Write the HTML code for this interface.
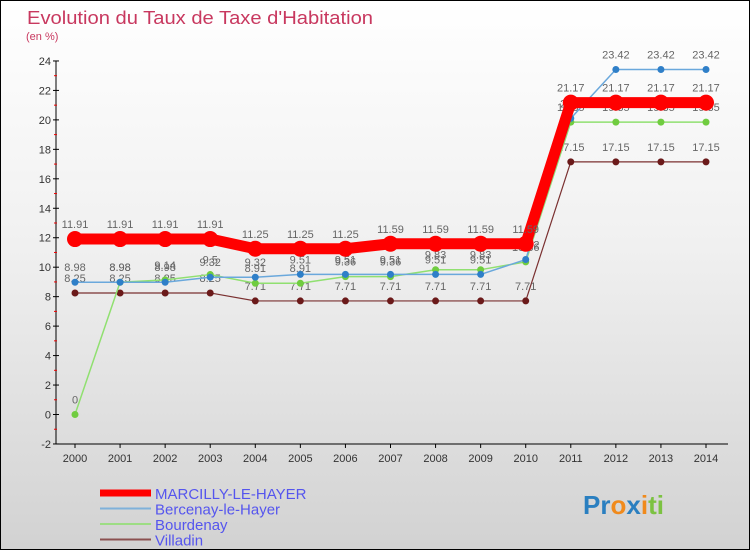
<!DOCTYPE html>
<html><head><meta charset="utf-8"><style>
html,body{margin:0;padding:0}
body{width:750px;height:550px;overflow:hidden;font-family:"Liberation Sans",sans-serif}
#wrap{position:relative;width:748px;height:548px;border:1px solid #000;background:linear-gradient(#ffffff 0%,#f0f0f0 45%,#d2d2d2 100%)}
</style></head><body>
<div id="wrap">
<svg id="chart" width="748" height="548" viewBox="1 1 748 548" style="position:absolute;left:0;top:0">
<text x="27" y="24" font-size="18" fill="#c8385f" textLength="346" lengthAdjust="spacingAndGlyphs">Evolution du Taux de Taxe d'Habitation</text>
<text x="26" y="40" font-size="11" fill="#c8385f">(en %)</text>
<g id="axes"></g>
<g id="series"></g>
<g id="legend"></g>
<text x="583" y="514" font-size="26" font-weight="bold"><tspan fill="#2a7fc0">Pr</tspan><tspan fill="#f08a1c">o</tspan><tspan fill="#2a7fc0">x</tspan><tspan fill="#f08a1c">i</tspan><tspan fill="#7cc242">ti</tspan></text>
</svg>
</div>
<script>
const years=[2000,2001,2002,2003,2004,2005,2006,2007,2008,2009,2010,2011,2012,2013,2014];
const yTicks=[-2,0,2,4,6,8,10,12,14,16,18,20,22,24];
const marcilly=[11.91,11.91,11.91,11.91,11.25,11.25,11.25,11.59,11.59,11.59,11.59,21.17,21.17,21.17,21.17];
const bercenay=[8.98,8.98,8.98,9.32,9.32,9.51,9.51,9.51,9.51,9.51,10.52,20.1,23.42,23.42,23.42];
const bourdenay=[0,8.98,9.14,9.5,8.91,8.91,9.36,9.36,9.83,9.83,10.36,19.85,19.85,19.85,19.85];
const villadin=[8.25,8.25,8.25,8.25,7.71,7.71,7.71,7.71,7.71,7.71,7.71,17.15,17.15,17.15,17.15];
const NS="http://www.w3.org/2000/svg";
function X(i){return 75+i*(706-75)/(years.length-1);}
function Y(v){return 414.5-v*(444-61)/26;}
function mk(tag,attrs,parent){const e=document.createElementNS(NS,tag);for(const k in attrs)e.setAttribute(k,attrs[k]);parent.appendChild(e);return e;}
const axes=document.getElementById('axes');
let ax=mk('line',{x1:56,y1:Y(24),x2:56,y2:Y(-2),stroke:'#000'},axes);


let bx=mk('line',{x1:56,y1:Y(-2),x2:728,y2:Y(-2),stroke:'#000'},axes);


yTicks.forEach(t=>{
  mk('line',{x1:53,y1:Y(t),x2:59,y2:Y(t),stroke:'#000'},axes);
  if(t<24) mk('line',{x1:54,y1:Y(t+1),x2:57,y2:Y(t+1),stroke:'#e00'},axes);
  const tx=mk('text',{x:51,y:Y(t)+4,'font-size':11,'text-anchor':'end',fill:'#333'},axes);
  tx.textContent=t;
  
  
});
years.forEach((yr,i)=>{
  mk('line',{x1:X(i),y1:Y(-2),x2:X(i),y2:Y(-2)+4,stroke:'#000'},axes);
  const tx=mk('text',{x:X(i),y:462,'font-size':11,'text-anchor':'middle',fill:'#333'},axes);
  tx.textContent=yr;
  
  
});
const series=[
 {name:'villadin',label:'Villadin',data:villadin,color:'#7a3030',dot:'#6b1a1a',w:1.2,r:3.5},
 {name:'bourdenay',label:'Bourdenay',data:bourdenay,color:'#90e070',dot:'#70cc40',w:1.5,r:3.5},
 {name:'bercenay',label:'Bercenay-le-Hayer',data:bercenay,color:'#6aa8dc',dot:'#2f7fc8',w:1.5,r:3.5},
 {name:'marcilly',label:'MARCILLY-LE-HAYER',data:marcilly,color:'#f00',dot:'#f00',w:11,r:8}
];
const sg=document.getElementById('series');
series.forEach(s=>{
  const g=mk('g',{},sg);
  
  
  const pts=s.data.map((v,i)=>X(i)+','+Y(v)).join(' ');
  const pl=mk('polyline',{points:pts,fill:'none',stroke:s.color,'stroke-width':s.w,'stroke-linejoin':'round'},g);
  
  
  s.data.forEach((v,i)=>{
    const c=mk('circle',{cx:X(i),cy:Y(v),r:s.r,fill:s.dot},g);
    
    
    const t=mk('text',{x:X(i),y:Y(v)-11,'font-size':11,'text-anchor':'middle',fill:'#666'},g);
    t.textContent=v;
    
    
  });
});
const lg=document.getElementById('legend');
const order=[series[3],series[2],series[1],series[0]];
order.forEach((s,k)=>{
  const y=493+k*15.5;
  const l=mk('line',{x1:100,y1:y,x2:151,y2:y,stroke:s.color,'stroke-width':k==0?7:2,opacity:k==0?1:0.8},lg);
  
  
  const t=mk('text',{x:155,y:y+6,'font-size':15,fill:'#5555ee'},lg);
  t.textContent=s.label;
  
  
});
</script>
</body></html>
